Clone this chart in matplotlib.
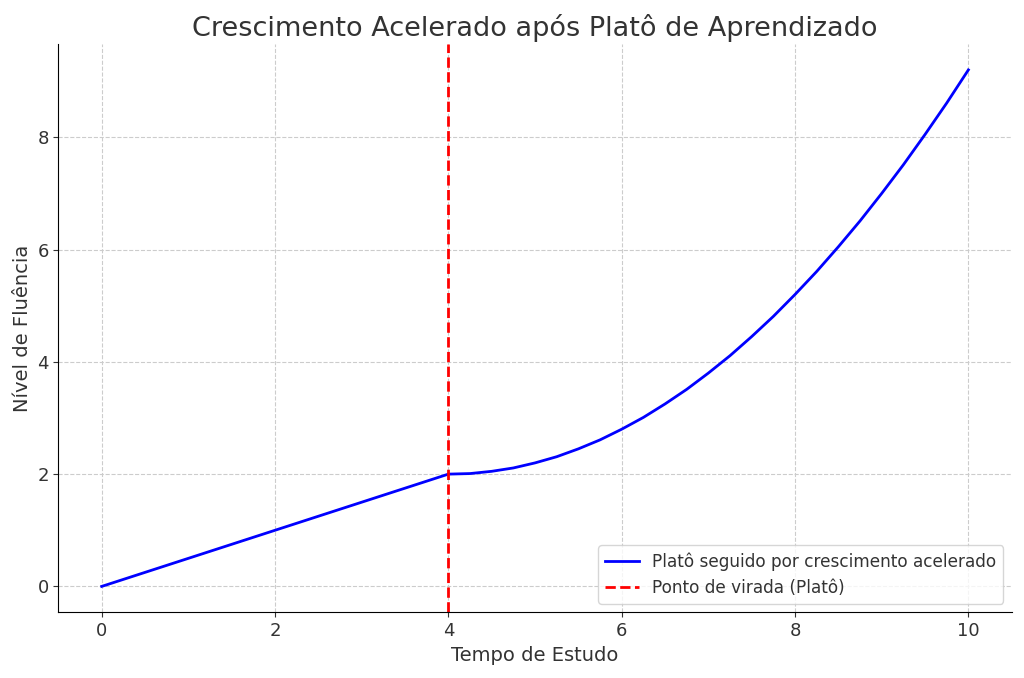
import matplotlib
matplotlib.use("Agg")
import matplotlib.pyplot as plt

# Data
tempo = [0.0, 1.0, 2.0, 3.0, 4.0,
         4.25, 4.5, 4.75, 5.0, 5.25, 5.5, 5.75, 6.0,
         6.25, 6.5, 6.75, 7.0, 7.25, 7.5, 7.75, 8.0,
         8.25, 8.5, 8.75, 9.0, 9.25, 9.5, 9.75, 10.0]
fluencia = [0.0, 0.5, 1.0, 1.5, 2.0,
            2.01, 2.05, 2.11, 2.2, 2.31, 2.45, 2.61, 2.8,
            3.01, 3.25, 3.51, 3.8, 4.11, 4.45, 4.81, 5.2,
            5.61, 6.05, 6.51, 7.0, 7.51, 8.05, 8.61, 9.2]
ponto_virada = 4

fig = plt.figure(figsize=(10.24, 6.78), dpi=100)
ax = fig.add_axes([0.057, 0.097, 0.931, 0.838])

ax.plot(tempo, fluencia, color="blue", linewidth=2,
        label="Platô seguido por crescimento acelerado")
ax.axvline(ponto_virada, color="red", linestyle="--", linewidth=2,
           label="Ponto de virada (Platô)")

ax.set_title("Crescimento Acelerado após Platô de Aprendizado", fontsize=19.5, color="#333333")
ax.set_xlabel("Tempo de Estudo", fontsize=14, color="#333333")
ax.set_ylabel("Nível de Fluência", fontsize=14, color="#333333")
ax.tick_params(labelsize=13, colors="#333333")
ax.grid(True, linestyle="--", color="#cccccc", linewidth=0.8)
ax.set_axisbelow(True)
for s in ["top", "right"]:
    ax.spines[s].set_visible(False)
leg = ax.legend(loc="lower right", fontsize=12.2)
for t in leg.get_texts():
    t.set_color("#333333")

fig.savefig("out.png", dpi=100)
